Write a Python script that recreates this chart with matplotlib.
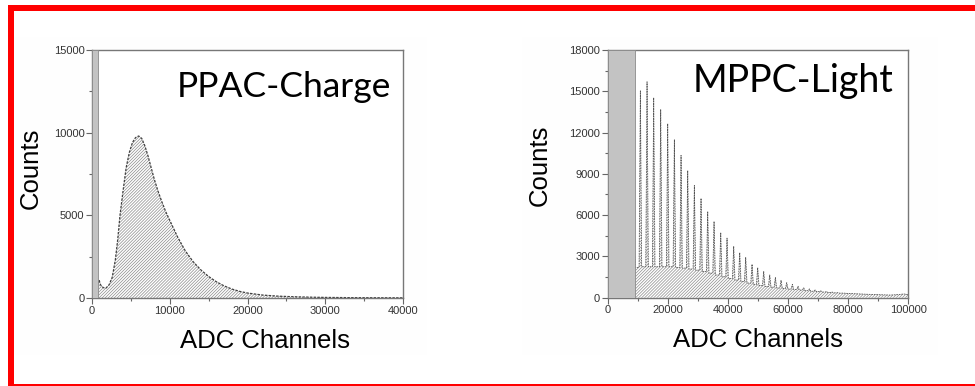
import matplotlib
matplotlib.use("Agg")
import matplotlib.pyplot as plt
from matplotlib.patches import Rectangle
from matplotlib.ticker import MultipleLocator

# ---- PPAC charge spectrum: (channel, counts)
ppac_channels = [800, 900, 1100, 1300, 1500, 1800, 2200, 2600, 3000, 3300, 3600,
                 4000, 4400, 4800, 5200, 5600, 6000, 6400, 6800, 7200, 7600,
                 8000, 8500, 9000, 9500, 10000, 10500, 11000, 12000, 13000,
                 14000, 15000, 16000, 17000, 18000, 19000, 20000, 22000, 24000,
                 26000, 28000, 30000, 33000, 36000, 40000]
ppac_counts = [900, 1100, 800, 680, 620, 600, 800, 1250, 2300, 3500, 5000,
               6500, 7900, 8800, 9400, 9700, 9800, 9650, 9200, 8600, 7900,
               7200, 6450, 5800, 5200, 4700, 4200, 3700, 2850, 2200,
               1700, 1300, 980, 730, 540, 400, 300, 175, 110,
               75, 50, 35, 22, 15, 10]
ppac_cut = 800          # grey masked region upper edge (channels)

# ---- MPPC light spectrum: photo-electron peaks and the continuum between them
mppc_peak_channels = [8870, 10870, 13090, 15300, 17630, 19960, 22180, 24400,
                      26620, 28830, 31050, 33270, 35380, 37600, 39700, 41920,
                      43920, 45910, 48020, 49900, 51900, 53900, 55780, 57670,
                      59550, 61440, 63320, 65200, 67100, 69000, 70900, 72800,
                      74700, 76600, 78500]
mppc_peak_counts = [3600, 15030, 15690, 14540, 13670, 12650, 11480, 10340,
                    9240, 8150, 7220, 6270, 5540, 4740, 4330, 3720,
                    3280, 2920, 2430, 2190, 1900, 1650, 1460, 1260,
                    1090, 970, 830, 720, 640, 560, 500, 450,
                    410, 370, 340]
# continuum level before, between and after the peaks (one more than peaks)
mppc_valley_counts = [2200, 2200, 2250, 2250, 2250, 2250, 2250, 2200,
                      2150, 2080, 2000, 1900, 1780, 1650, 1520, 1400,
                      1280, 1170, 1060, 970, 890, 820, 760, 710,
                      670, 630, 590, 550, 510, 470, 440, 410,
                      380, 350, 330, 320]
mppc_tail_channels = [82000, 86000, 90000, 94000, 97000, 98500, 100000]
mppc_tail_counts = [290, 250, 220, 190, 230, 270, 220]
mppc_cut = 9000

W, H = 975, 386
fig = plt.figure(figsize=(W / 100, H / 100), dpi=100)
fig.patch.set_facecolor("white")

SANS = ["Liberation Sans", "DejaVu Sans"]
TITLE = ["Lato", "DejaVu Sans"]
plt.rcParams["hatch.linewidth"] = 0.5


def px_rect(x0, y0, x1, y1, color, z=0):
    fig.add_artist(Rectangle((x0 / W, 1 - y1 / H), (x1 - x0) / W, (y1 - y0) / H,
                             transform=fig.transFigure, facecolor=color,
                             edgecolor="none", zorder=z))


# very faint panels behind the two plots
px_rect(14, 37, 427, 355, "#fefefe", -5)
px_rect(522, 37, 938, 355, "#fefefe", -5)

# red frame
px_rect(8, 5, W, 10.7, "#ff0000", 10)
px_rect(8.3, 5, 14, H, "#ff0000", 10)
px_rect(8.3, 384.3, W, H, "#ff0000", 10)


def style_axes(ax, xmax, xmaj, xmin, ymax, ymaj, ymin):
    ax.set_xlim(0, xmax)
    ax.set_ylim(0, ymax)
    ax.xaxis.set_major_locator(MultipleLocator(xmaj))
    ax.xaxis.set_minor_locator(MultipleLocator(xmin))
    ax.yaxis.set_major_locator(MultipleLocator(ymaj))
    ax.yaxis.set_minor_locator(MultipleLocator(ymin))
    for s in ax.spines.values():
        s.set_color("#777777")
        s.set_linewidth(1.0)
    ax.tick_params(which="major", direction="out", length=4, width=0.8,
                   color="#666666", labelsize=8, labelcolor="#333333", pad=1.5)
    ax.tick_params(which="minor", direction="out", length=2, width=0.8,
                   color="#666666")
    for lab in ax.get_xticklabels() + ax.get_yticklabels():
        lab.set_fontfamily(SANS)
    ax.set_facecolor("white")


HATCH = "/" * 11

# ---------------- PPAC-Charge ----------------
ax1 = fig.add_axes([92 / W, 1 - 298 / H, 311 / W, 248 / H])
ax1.fill_between(ppac_channels, ppac_counts, 0, facecolor="white",
                 edgecolor="#8c8c8c", hatch=HATCH, linewidth=0, zorder=1)
ax1.plot(ppac_channels, ppac_counts, color="#404040", lw=0.9,
         ls=(0, (2.0, 1.0)), zorder=2)
ax1.axvspan(0, ppac_cut, facecolor="#c3c3c3", edgecolor="#8a8a8a", lw=0.6,
            zorder=3)
style_axes(ax1, 40000, 10000, 5000, 15000, 5000, 2500)
ax1.text(0.961, 0.8105, "PPAC-Charge", transform=ax1.transAxes, ha="right",
         va="baseline", fontsize=25.5, family=TITLE, color="black")

# ---------------- MPPC-Light ----------------
mx, my = [], []
for i, (pc, ph) in enumerate(zip(mppc_peak_channels, mppc_peak_counts)):
    hw = 420
    mx += [pc - hw, pc, pc + hw]
    my += [mppc_valley_counts[i], ph, mppc_valley_counts[i + 1]]
mx += mppc_tail_channels
my += mppc_tail_counts

ax2 = fig.add_axes([607.7 / W, 1 - 297.7 / H, 300.6 / W, 247.7 / H])
ax2.fill_between(mx, my, 0, facecolor="white", edgecolor="#8c8c8c",
                 hatch=HATCH, linewidth=0, zorder=1)
ax2.plot(mx, my, color="#555555", lw=0.6, ls=(0, (2.0, 1.0)), zorder=2)
ax2.axvspan(0, mppc_cut, facecolor="#c3c3c3", edgecolor="#8a8a8a", lw=0.6,
            zorder=3)
style_axes(ax2, 100000, 20000, 10000, 18000, 3000, 1500)
ax2.text(0.949, 0.830, "MPPC-Light", transform=ax2.transAxes, ha="right",
         va="baseline", fontsize=27, family=TITLE, color="black")

# axis titles
fig.text(265 / W, 1 - 348 / H, "ADC Channels", ha="center", va="baseline",
         fontsize=18.5, family=SANS, color="black")
fig.text(758 / W, 1 - 347 / H, "ADC Channels", ha="center", va="baseline",
         fontsize=18.5, family=SANS, color="black")
fig.text(31 / W, 1 - 168 / H, "Counts", ha="center", va="center",
         rotation=90, fontsize=18.5, family=SANS, color="black")
fig.text(540 / W, 1 - 165 / H, "Counts", ha="center", va="center",
         rotation=90, fontsize=18.5, family=SANS, color="black")

fig.savefig("out.png", dpi=100, facecolor="white")
